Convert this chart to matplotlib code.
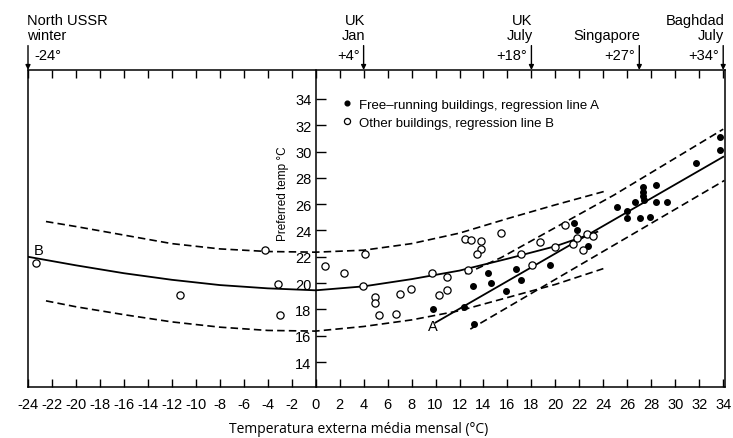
import matplotlib.pyplot as plt
from matplotlib import font_manager

installed = {f.name for f in font_manager.fontManager.ttflist}
narrow = 'Liberation Sans Narrow' if 'Liberation Sans Narrow' in installed else 'Liberation Sans'

plt.rcParams['font.family'] = [narrow, 'DejaVu Sans']
plt.rcParams['axes.unicode_minus'] = False

# free-running buildings (filled dots)
free_x = [9.83, 12.4, 13.15, 13.2, 14.39, 14.6, 15.85, 16.74, 17.1, 19.56,
          21.58, 21.77, 22.69, 25.1, 25.95, 25.95, 26.64, 27.05, 27.3, 27.3,
          27.35, 27.4, 27.9, 28.36, 28.4, 29.27, 31.76, 33.7, 33.7]
free_y = [18.05, 18.18, 19.75, 16.86, 20.76, 20.0, 19.37, 21.1, 20.2, 21.34,
          24.6, 24.05, 22.81, 25.8, 25.47, 24.96, 26.16, 24.96, 27.3, 26.96,
          26.63, 26.3, 25.06, 27.42, 26.16, 26.2, 29.14, 31.1, 30.15]

# other buildings (open circles)
other_x = [-23.3, -11.3, -4.2, -3.15, -2.95, 0.75, 2.4, 4.1, 3.95, 4.95,
           4.95, 5.26, 6.7, 7.0, 7.94, 9.69, 10.3, 10.99, 10.99, 12.45,
           13.0, 12.73, 13.83, 13.83, 13.5, 15.44, 17.15, 18.07, 18.73, 20.0,
           20.8, 21.5, 21.77, 22.27, 22.6, 23.1]
other_y = [21.5, 19.1, 22.5, 19.9, 17.6, 21.3, 20.8, 22.2, 19.8, 18.95,
           18.5, 17.6, 17.65, 19.2, 19.57, 20.76, 19.06, 20.46, 19.44, 23.37,
           23.3, 20.96, 23.2, 22.56, 22.2, 23.8, 22.2, 21.34, 23.1, 22.76,
           24.4, 22.94, 23.42, 22.48, 23.7, 23.57]

# regression line A and its band
line_a_x = [10, 34]
line_a_y = [17.0, 29.6]
a_upper_x = [12.5, 15.5, 24.9, 34]
a_upper_y = [20.7, 21.95, 26.7, 31.7]
a_lower_x = [12.9, 34.1]
a_lower_y = [16.5, 27.8]

# regression line B and its band
line_b_x = [-24, -20, -16, -12, -8, -4, 0, 4, 8, 12, 16, 20, 23.5]
line_b_y = [22.0, 21.35, 20.75, 20.25, 19.85, 19.6, 19.45, 19.75, 20.3, 20.95, 21.85, 22.8, 23.9]
b_upper_x = [-22.5, -20, -16, -12, -8, -4, 0, 4, 8, 12, 16, 20, 24.2]
b_upper_y = [24.68, 24.3, 23.65, 23.0, 22.6, 22.4, 22.35, 22.5, 23.0, 23.8, 24.9, 25.95, 27.0]
b_lower_x = [-22.5, -20, -16, -12, -8, -4, 0, 4, 8, 12, 16, 20, 24]
b_lower_y = [18.65, 18.2, 17.6, 17.05, 16.65, 16.4, 16.35, 16.7, 17.2, 17.9, 18.9, 19.9, 21.1]

# reference climates on the top edge
places = ['North USSR\nwinter', 'UK\nJan', 'UK\nJuly', 'Singapore', 'Baghdad\nJuly']
place_temps = [-24, 4, 18, 27, 34]
place_labels = ['-24°', '+4°', '+18°', '+27°', '+34°']

fig = plt.figure(figsize=(7.33, 4.39), dpi=100)
ax = fig.add_axes([28 / 733, 51 / 439, 697 / 733, 317 / 439])

dash = (0, (4.5, 2.5))
ax.plot(line_b_x, line_b_y, color='k', lw=1.3)
ax.plot(b_upper_x, b_upper_y, color='k', lw=1.2, ls=dash)
ax.plot(b_lower_x, b_lower_y, color='k', lw=1.2, ls=dash)
ax.plot(line_a_x, line_a_y, color='k', lw=1.3)
ax.plot(a_upper_x, a_upper_y, color='k', lw=1.2, ls=dash)
ax.plot(a_lower_x, a_lower_y, color='k', lw=1.2, ls=dash)

ax.plot(free_x, free_y, 'o', color='k', ms=4, ls='none', zorder=5,
        label='Free–running buildings, regression line A')
ax.plot(other_x, other_y, 'o', mfc='white', mec='k', mew=0.9, ms=5.2, ls='none', zorder=5,
        label='Other buildings, regression line B')

ax.set_xlim(-24, 34.15)
ax.set_ylim(12.1, 36.2)

ax.spines['left'].set_position(('data', 0))
for s in ax.spines.values():
    s.set_linewidth(1.1)
ax.plot([0, 0], [0, 1], transform=ax.transAxes, color='k', lw=1.1, clip_on=False)

ax.set_xticks(range(-24, 35, 2))
ax.set_yticks(range(14, 35, 2))
ax.tick_params(axis='x', direction='in', top=True, length=6, width=1, labelsize=10.5, pad=7)
ax.tick_params(axis='y', direction='in', length=7, width=1, labelsize=10.5, pad=3)

ax.text(-2.7, 26.9, 'Preferred temp °C', rotation=90, ha='center', va='center', fontsize=8.5)
ax.text(9.75, 16.7, 'A', ha='center', va='center', fontsize=10.5)
ax.text(-23.15, 22.55, 'B', ha='center', va='center', fontsize=10.5)

ax.legend(loc='upper left', bbox_to_anchor=(0.45, 0.91), frameon=False, borderpad=0,
          borderaxespad=0, handlelength=0.8, handletextpad=0.5, labelspacing=0.45,
          markerscale=0.85, prop={'family': 'Liberation Sans', 'size': 9.5})

xt = ax.get_xaxis_transform()
for name, t, lab in zip(places, place_temps, place_labels):
    ax.annotate('', xy=(t, 1.0), xytext=(t, 1.077), xycoords=xt, textcoords=xt,
                annotation_clip=False,
                arrowprops=dict(arrowstyle='-|>', color='k', lw=1, mutation_scale=7,
                                shrinkA=0, shrinkB=0))
    if t == place_temps[0]:
        ax.text(t - 0.08, 1.088, name, transform=xt, ha='left', va='bottom',
                fontsize=10.5, linespacing=1.1)
        ax.text(t + 0.5, 1.047, lab, transform=xt, ha='left', va='center', fontsize=10.5)
    else:
        ax.text(t + 0.1, 1.088, name, transform=xt, ha='right', va='bottom',
                fontsize=10.5, linespacing=1.1, multialignment='right')
        ax.text(t - 0.33, 1.047, lab, transform=xt, ha='right', va='center', fontsize=10.5)

fig.text(359 / 733, 1 - 430 / 439, 'Temperatura externa média mensal (°C)',
         ha='center', va='center', fontsize=10, family=['Open Sans', 'DejaVu Sans'])

fig.savefig('out.png', dpi=100)
